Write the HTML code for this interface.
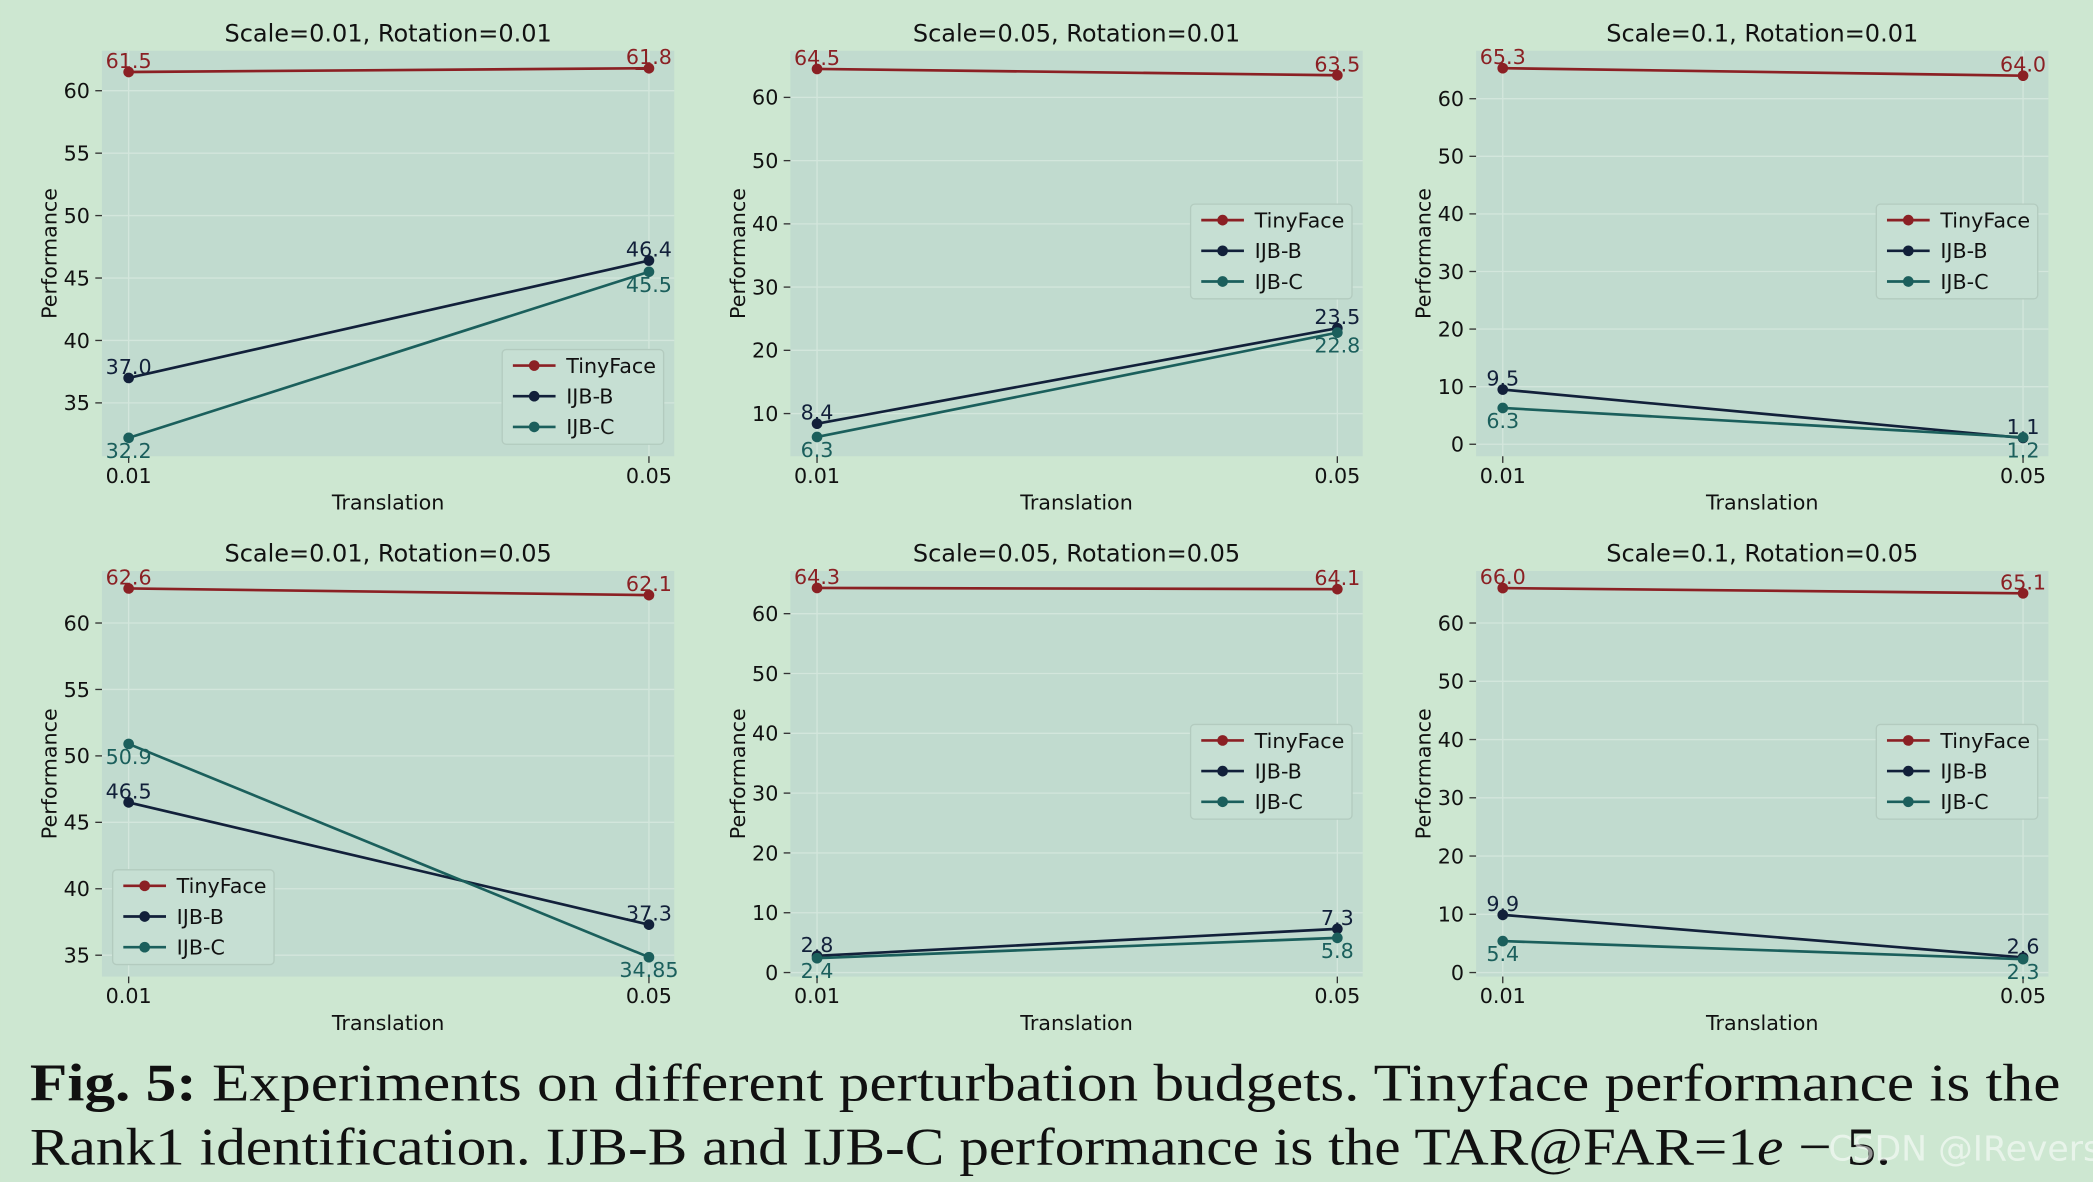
<!DOCTYPE html>
<html><head><meta charset="utf-8"><style>
html,body{margin:0;padding:0;background:#cde7d1;}
svg{display:block}
text{font-family:"DejaVu Sans","Liberation Sans",sans-serif;}
.cap{font-family:"Liberation Serif",serif;}
</style></head><body>
<svg id="fig" width="2093" height="1182" viewBox="0 0 1568 886" xmlns="http://www.w3.org/2000/svg">
<rect x="0" y="0" width="1568" height="886" fill="#cde7d1"/>
<g id="charts"></g>
<text class="cap" x="22" y="825" font-size="40" fill="#111" textLength="1522" lengthAdjust="spacingAndGlyphs"><tspan font-weight="bold">Fig. 5:</tspan> Experiments on different perturbation budgets. Tinyface performance is the</text>
<text class="cap" x="22" y="873" font-size="40" fill="#111" textLength="1395" lengthAdjust="spacingAndGlyphs">Rank1 identification. IJB-B and IJB-C performance is the TAR@FAR=1<tspan font-style="italic">e</tspan> − 5.</text>
<text x="1370" y="870" font-size="26" fill="#ffffff" fill-opacity="0.55">CSDN @IRevers</text>
</svg>
<script>
const titles=["Scale=0.01, Rotation=0.01","Scale=0.05, Rotation=0.01","Scale=0.1, Rotation=0.01","Scale=0.01, Rotation=0.05","Scale=0.05, Rotation=0.05","Scale=0.1, Rotation=0.05"];
const categories=["0.01","0.05"];
const seriesNames=["TinyFace","IJB-B","IJB-C"];
const tinyface=[[61.5,61.8],[64.5,63.5],[65.3,64.0],[62.6,62.1],[64.3,64.1],[66.0,65.1]];
const ijbb=[[37.0,46.4],[8.4,23.5],[9.5,1.1],[46.5,37.3],[2.8,7.3],[9.9,2.6]];
const ijbc=[[32.2,45.5],[6.3,22.8],[6.3,1.2],[50.9,34.85],[2.4,5.8],[5.4,2.3]];
const labelsB=[["37.0","46.4"],["8.4","23.5"],["9.5","1.1"],["46.5","37.3"],["2.8","7.3"],["9.9","2.6"]];
const labelsC=[["32.2","45.5"],["6.3","22.8"],["6.3","1.2"],["50.9","34.85"],["2.4","5.8"],["5.4","2.3"]];
const yTicks=[[35,40,45,50,55,60],[10,20,30,40,50,60],[0,10,20,30,40,50,60],[35,40,45,50,55,60],[0,10,20,30,40,50,60],[0,10,20,30,40,50,60]];
const cols=[{x0:76,x1:505,p0:96,p1:486},{x0:592,x1:1021,p0:612,p1:1002},{x0:1106,x1:1535,p0:1126,p1:1516}];
const rows=[{y0:38,y1:342,ty:24},{y0:428,y1:732,ty:414}];
const yCal=[[60,68,35,302],[60,73,10,310],[60,74,0,333],[60,467,35,716],[60,460,0,729],[60,467,0,729]];
const legPos=[[376,262],[892,153],[1406,153],[84,652],[892,543],[1406,543]];
const colors=["#8b2024","#12203a","#1b5f5c"];
const NS="http://www.w3.org/2000/svg";
const root=document.getElementById('charts');
function mk(tag,attrs,parent,txt){const e=document.createElementNS(NS,tag);for(const k in attrs)e.setAttribute(k,attrs[k]);if(txt!==undefined)e.textContent=txt;parent.appendChild(e);return e;}
for(let i=0;i<6;i++){
  const c=cols[i%3], r=rows[Math.floor(i/3)], cal=yCal[i];
  const g=mk('g',{},root);
  
  
  const ys=v=>cal[1]+(v-cal[0])*(cal[3]-cal[1])/(cal[2]-cal[0]);
  const xs=j=>c.p0+(c.p1-c.p0)*j/(categories.length-1);
  const bg=mk('rect',{x:c.x0,y:r.y0,width:c.x1-c.x0,height:r.y1-r.y0,fill:'#c1dbcf'},g);
  
  
  const t=mk('text',{x:(c.x0+c.x1)/2,y:r.ty+7,'font-size':18,'text-anchor':'middle',fill:'#111'},g,titles[i]);
  
  
  yTicks[i].forEach(v=>{
    const y=ys(v);
    mk('line',{x1:c.x0,x2:c.x1,y1:y,y2:y,stroke:'#d3e6dc','stroke-width':1},g);
    mk('line',{x1:c.x0-5,x2:c.x0,y1:y,y2:y,stroke:'#333','stroke-width':1},g);
    const tl=mk('text',{x:c.x0-9,y:y+5.5,'font-size':15.5,'text-anchor':'end',fill:'#111'},g,String(v));
    
    
  });
  categories.forEach((cat,j)=>{
    const x=xs(j);
    mk('line',{x1:x,x2:x,y1:r.y0,y2:r.y1,stroke:'#d3e6dc','stroke-width':1},g);
    mk('line',{x1:x,x2:x,y1:r.y1,y2:r.y1+5,stroke:'#333','stroke-width':1},g);
    const xl=mk('text',{x:x,y:r.y1+20,'font-size':15.5,'text-anchor':'middle',fill:'#111'},g,cat);
    
    
  });
  const xt=mk('text',{x:(c.x0+c.x1)/2,y:r.y1+40,'font-size':15.5,'text-anchor':'middle',fill:'#111'},g,'Translation');
  
  
  const yc=(r.y0+r.y1)/2;
  const yt=mk('text',{x:c.x0-34,y:yc,'font-size':15.5,'text-anchor':'middle',fill:'#111',transform:`rotate(-90 ${c.x0-34} ${yc})`},g,'Performance');
  
  
  const sets=[tinyface[i],ijbb[i],ijbc[i]];
  const labs=[tinyface[i].map(v=>v.toFixed(1)),labelsB[i],labelsC[i]];
  sets.forEach((vals,s)=>{
    const pts=vals.map((v,j)=>xs(j)+','+ys(v)).join(' ');
    const pl=mk('polyline',{points:pts,fill:'none',stroke:colors[s],'stroke-width':2},g);
    
    
    vals.forEach((v,j)=>{
      const pt=mk('circle',{cx:xs(j),cy:ys(v),r:4,fill:colors[s]},g);
      
      
      const below=(s===2);
      const lt=mk('text',{x:xs(j),y:ys(v)+(below?15:-3),'font-size':15.5,'text-anchor':'middle',fill:colors[s]},g,labs[s][j]);
      
      
    });
  });
  const [lx,ly]=legPos[i];
  const lg=mk('g',{},g);
  
  
  mk('rect',{x:lx,y:ly,width:121,height:71,rx:3,fill:'#c6dfd3',stroke:'#b3cbbf','stroke-width':1},lg);
  seriesNames.forEach((n,s)=>{
    const yy=ly+12+s*23;
    mk('line',{x1:lx+8,x2:lx+40,y1:yy,y2:yy,stroke:colors[s],'stroke-width':2},lg);
    mk('circle',{cx:lx+24,cy:yy,r:4,fill:colors[s]},lg);
    const le=mk('text',{x:lx+48,y:yy+5.5,'font-size':15.5,fill:'#111'},lg,n);
    
    
  });
}
</script>
</body></html>
